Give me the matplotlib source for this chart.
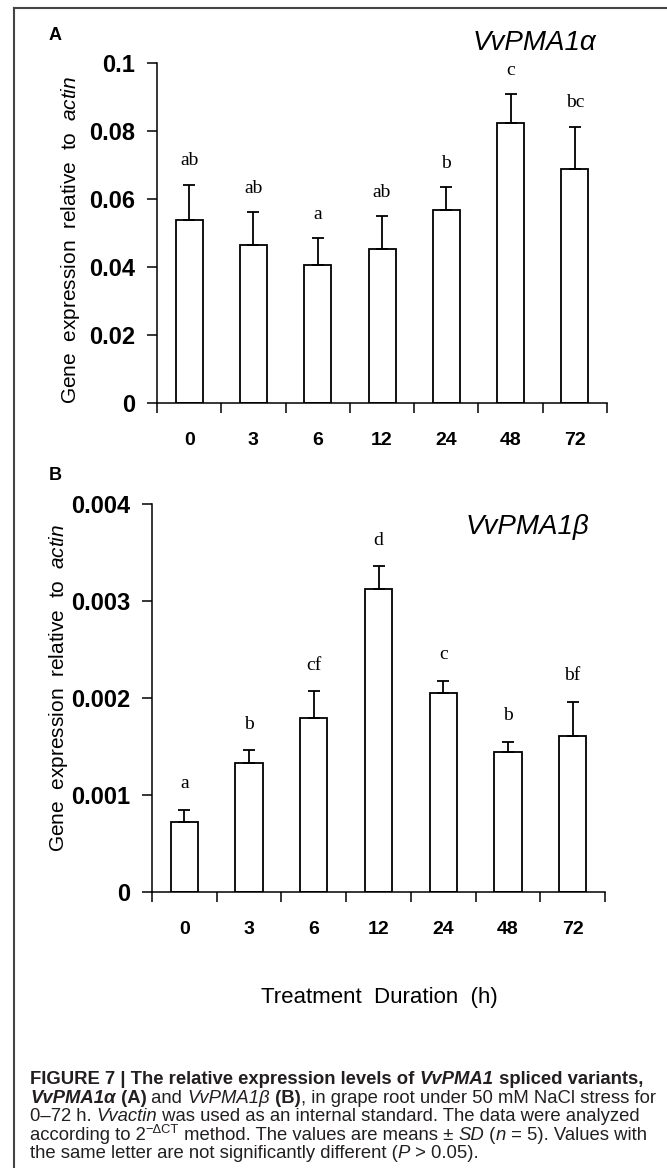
import matplotlib
matplotlib.use("Agg")
import matplotlib.pyplot as plt
from matplotlib.lines import Line2D

plt.rcParams["font.family"] = ["Liberation Sans", "DejaVu Sans"]
plt.rcParams["mathtext.fontset"] = "custom"
plt.rcParams["mathtext.rm"] = "Liberation Sans"
plt.rcParams["mathtext.it"] = "Liberation Sans:italic"
plt.rcParams["mathtext.bf"] = "Liberation Sans:bold"

# data
TIMES = ["0", "3", "6", "12", "24", "48", "72"]
A_MEAN = [0.0538, 0.0463, 0.0404, 0.0452, 0.0566, 0.0822, 0.0688]
A_SD = [0.0103, 0.0098, 0.0080, 0.0096, 0.0069, 0.0086, 0.0124]
A_LETTERS = ["ab", "ab", "a", "ab", "b", "c", "bc"]
A_TICKS = [0, 0.02, 0.04, 0.06, 0.08, 0.1]
A_TICKLABELS = ["0", "0.02", "0.04", "0.06", "0.08", "0.1"]

B_MEAN = [0.00072, 0.00133, 0.00179, 0.00312, 0.00205, 0.00144, 0.00161]
B_SD = [0.00013, 0.00013, 0.00028, 0.00024, 0.00013, 0.00011, 0.00035]
B_LETTERS = ["a", "b", "cf", "d", "c", "b", "bf"]
B_TICKS = [0, 0.001, 0.002, 0.003, 0.004]
B_TICKLABELS = ["0", "0.001", "0.002", "0.003", "0.004"]

W, H = 667, 1168
fig = plt.figure(figsize=(W / 100, H / 100), dpi=100)


def px(x, y):
    return x / W, 1 - y / H


def panel(rect, mean, sd, letters, ticks, ticklabels, ymax):
    l, t, r, b = rect
    ax = fig.add_axes([l / W, 1 - b / H, (r - l) / W, (b - t) / H])
    x = range(len(mean))
    ax.bar(x, mean, width=0.42, color="white", edgecolor="black", linewidth=1.3, zorder=2)
    ax.errorbar(x, mean, yerr=[[0] * len(sd), sd], fmt="none", ecolor="black",
                elinewidth=1.3, capsize=4.5, capthick=1.3, zorder=3)
    for i, (m, s, lab) in enumerate(zip(mean, sd, letters)):
        ax.text(i, m + s + ymax * 0.045, lab, ha="center", va="bottom",
                family="Liberation Serif", fontsize=14)
    ax.set_xlim(-0.5, len(mean) - 0.5)
    ax.set_ylim(0, ymax)
    ax.set_xticks([i - 0.5 for i in range(len(mean) + 1)])
    ax.set_xticklabels([])
    ax.set_xticks(list(x), minor=True)
    ax.set_xticklabels(TIMES, minor=True, fontsize=14, fontweight="bold")
    ax.tick_params(axis="x", which="minor", length=0, pad=21)
    ax.tick_params(axis="x", which="major", length=7.5, width=1.1, direction="out")
    ax.set_yticks(ticks)
    ax.set_yticklabels(ticklabels, fontsize=17, fontweight="bold")
    ax.tick_params(axis="y", length=7.5, width=1.1, pad=8)
    for s in ["top", "right"]:
        ax.spines[s].set_visible(False)
    for s in ["left", "bottom"]:
        ax.spines[s].set_linewidth(1.1)
    ax.patch.set_alpha(0)
    return ax


panel((157, 62.7, 607, 402.7), A_MEAN, A_SD, A_LETTERS, A_TICKS, A_TICKLABELS, 0.1)
panel((152, 504, 605, 892), B_MEAN, B_SD, B_LETTERS, B_TICKS, B_TICKLABELS, 0.004)

ylab = "Gene  expression  relative  to  $\\it{actin}$"
fig.text(*px(71, 240), ylab, rotation=90, ha="center", va="center", fontsize=15)
fig.text(*px(59, 688), ylab, rotation=90, ha="center", va="center", fontsize=15)

fig.text(*px(55, 35), "A", fontsize=13, fontweight="bold", ha="center", va="center")
fig.text(*px(55, 476), "B", fontsize=13, fontweight="bold", ha="center", va="center")
fig.text(*px(534, 43), "VvPMA1\u03b1", fontsize=20, style="italic", ha="center", va="center")
fig.text(*px(527, 527), "VvPMA1\u03b2", fontsize=20, style="italic", ha="center", va="center")
fig.text(*px(379, 997), "Treatment  Duration  (h)", fontsize=16, ha="center", va="center")

# frame around the figure
fig.add_artist(Line2D([14 / W, 14 / W], [0, 1 - 8 / H], color="#444444", lw=1.5))
fig.add_artist(Line2D([14 / W, 1], [1 - 8 / H, 1 - 8 / H], color="#444444", lw=1.5))

# caption, drawn segment by segment
CAP_COLOR = "#231f20"
caption = [
    [("FIGURE 7 | The relative expression levels of ", "bold", "normal"),
     ("VvPMA1", "bold", "italic"), (" spliced variants,", "bold", "normal")],
    [("VvPMA1\u03b1", "bold", "italic"), (" (A)", "bold", "normal"),
     (" and ", "normal", "normal"), ("VvPMA1\u03b2", "normal", "italic"),
     (" (B)", "bold", "normal"),
     (", in grape root under 50 mM NaCl stress for", "normal", "normal")],
    [("0\u201372 h. ", "normal", "normal"), ("Vvactin", "normal", "italic"),
     (" was used as an internal standard. The data were analyzed", "normal", "normal")],
    [("according to 2", "normal", "normal"), ("\u2212\u0394CT", "sup", "normal"),
     (" method. The values are means \u00b1 ", "normal", "normal"), ("SD", "normal", "italic"),
     (" (", "normal", "normal"), ("n", "normal", "italic"),
     (" = 5). Values with", "normal", "normal")],
    [("the same letter are not significantly different (", "normal", "normal"),
     ("P", "normal", "italic"), (" > 0.05).", "normal", "normal")],
]
CAP_BASE = [1084, 1103, 1121, 1140, 1158]
CAP_SIZE = 13.3

renderer = fig.canvas.get_renderer()


def text_width(s, **kw):
    t1 = fig.text(0, 0, s + "x", **kw)
    t2 = fig.text(0, 0, "x", **kw)
    w = t1.get_window_extent(renderer).width - t2.get_window_extent(renderer).width
    t1.remove()
    t2.remove()
    return w


for line, yy in zip(caption, CAP_BASE):
    xx = 30
    for s, weight, style in line:
        if weight == "sup":
            kw = dict(fontsize=CAP_SIZE * 0.7, color=CAP_COLOR)
            fig.text(xx / W, 1 - (yy - 7) / H, s, va="baseline", ha="left", **kw)
        else:
            kw = dict(fontsize=CAP_SIZE, fontweight=weight, style=style, color=CAP_COLOR)
            fig.text(xx / W, 1 - yy / H, s, va="baseline", ha="left", **kw)
        xx += text_width(s, **kw)

fig.savefig("out.png", dpi=100, facecolor="white")
